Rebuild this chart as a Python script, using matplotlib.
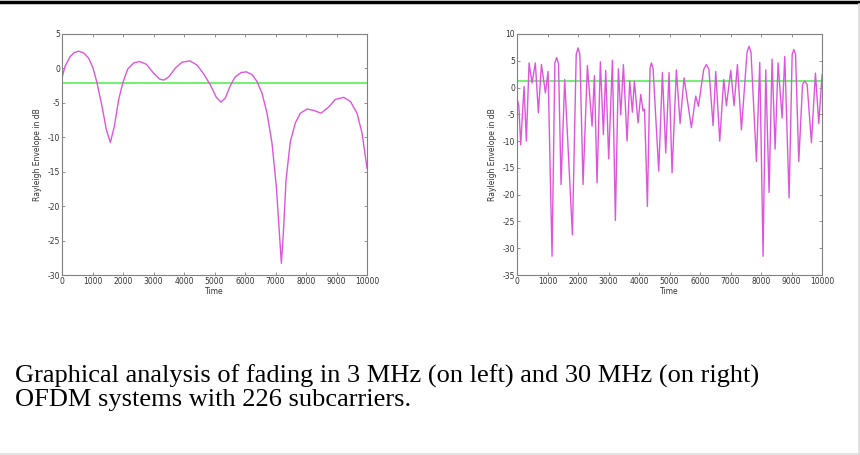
import numpy as np
import matplotlib
matplotlib.use("Agg")
import matplotlib.pyplot as plt
from matplotlib.lines import Line2D

plt.rcParams["axes.unicode_minus"] = False

# 3 MHz case (left)
t_3mhz = [0, 98, 273, 404, 546, 710, 874, 1016, 1148, 1311, 1454, 1585, 1716,
          1858, 2000, 2153, 2350, 2546, 2765, 3005, 3202, 3333, 3497, 3716,
          3934, 4186, 4426, 4645, 4863, 5060, 5213, 5355, 5508, 5672, 5869,
          6044, 6230, 6393, 6557, 6721, 6885, 7027, 7126, 7191, 7257, 7344,
          7486, 7650, 7814, 8033, 8251, 8492, 8743, 8962, 9235, 9454, 9672,
          9836, 10000]
env_3mhz = [-1.4, 0.3, 1.75, 2.3, 2.5, 2.25, 1.5, 0.05, -2.1, -5.5, -8.9, -10.75,
            -8.4, -4.5, -2.0, -0.1, 0.8, 1.0, 0.6, -0.7, -1.55, -1.7, -1.25, 0.05,
            0.9, 1.1, 0.5, -0.8, -2.4, -4.2, -4.9, -4.3, -2.6, -1.25, -0.6, -0.5,
            -0.9, -1.9, -3.6, -6.5, -10.9, -17.2, -23.9, -28.3, -23.9, -16.2,
            -10.6, -7.9, -6.5, -5.9, -6.1, -6.5, -5.6, -4.5, -4.2, -4.8, -6.5,
            -9.4, -14.5]
mean_3mhz = -2.1

# 30 MHz case (right)
t_30mhz = [0, 60, 120, 230, 306, 394, 492, 600, 700, 800, 930, 1017, 1148,
           1240, 1300, 1360, 1443, 1563, 1815, 1940, 2000, 2060, 2164, 2306,
           2460, 2536, 2623, 2732, 2831, 2907, 3005, 3126, 3224, 3323, 3400,
           3487, 3607, 3694, 3782, 3847, 3968, 4056, 4132, 4180, 4274, 4360,
           4405, 4460, 4645, 4766, 4875, 4984, 5082, 5224, 5345, 5476, 5716,
           5858, 5946, 6120, 6208, 6290, 6427, 6514, 6645, 6776, 6864, 7006,
           7115, 7225, 7356, 7540, 7607, 7670, 7848, 7957, 8066, 8154, 8263,
           8361, 8460, 8558, 8689, 8777, 8919, 9020, 9072, 9130, 9236, 9360,
           9432, 9510, 9651, 9782, 9892, 10000]
env_30mhz = [-2.0, -3.5, -10.7, 0.2, -10.0, 4.6, 0.85, 4.6, -4.7, 4.3, -1.0, 3.0,
             -31.5, 4.6, 5.6, 4.4, -18.1, 1.5, -27.5, 6.2, 7.4, 6.2, -18.1, 4.1,
             -7.2, 2.2, -17.8, 4.8, -8.8, 3.2, -13.3, 5.1, -24.8, 3.5, -5.1,
             4.3, -10.0, 1.2, -4.6, 1.2, -6.6, -1.3, -4.4, -4.0, -22.2, 3.6,
             4.6, 3.6, -15.6, 2.8, -12.2, 2.8, -15.9, 3.3, -6.7, 1.8, -7.5,
             -1.6, -3.5, 3.4, 4.3, 3.4, -7.1, 3.0, -10.0, 1.5, -3.4, 3.2, -3.4,
             4.3, -7.9, 6.6, 7.7, 6.6, -13.8, 4.7, -31.5, 3.3, -19.6, 5.3, -11.5,
             4.6, -5.7, 5.8, -20.6, 6.2, 7.1, 6.2, -13.8, 0.6, 1.2, 0.6, -10.3,
             2.7, -6.7, 2.4]
mean_30mhz = 1.2

caption = ("Graphical analysis of fading in 3 MHz (on left) and 30 MHz (on right)\n"
           "OFDM systems with 226 subcarriers.")

curve_color = "#dd55dd"
mean_color = "#77ee77"
frame_color = "#808080"

fig = plt.figure(figsize=(8.6, 4.55), dpi=100)


def setup(ax, ylim, yticks):
    ax.set_xlim(0, 10000)
    ax.set_ylim(*ylim)
    ax.set_xticks(np.arange(0, 10001, 1000))
    ax.set_yticks(yticks)
    ax.tick_params(direction="in", top=True, right=True, length=2.5,
                   width=0.6, labelsize=5.5, colors=frame_color,
                   labelcolor="#333333", pad=1.5)
    for sp in ax.spines.values():
        sp.set_color(frame_color)
        sp.set_linewidth(0.8)
    ax.set_xlabel("Time", fontsize=5.5, color="#333333", labelpad=1)
    ax.set_ylabel("Rayleigh Envelope in dB", fontsize=5.5, color="#333333",
                  labelpad=4)


ax1 = fig.add_axes([0.0721, 0.3956, 0.3547, 0.5297])
ax1.axhline(mean_3mhz, color=mean_color, lw=1.5)
ax1.plot(t_3mhz, env_3mhz, color=curve_color, lw=1.0)
setup(ax1, (-30, 5), np.arange(-30, 6, 5))

ax2 = fig.add_axes([0.6012, 0.3956, 0.3547, 0.5297])
ax2.axhline(mean_30mhz, color=mean_color, lw=1.5)
ax2.plot(t_30mhz, env_30mhz, color=curve_color, lw=1.0)
setup(ax2, (-35, 10), np.arange(-35, 11, 5))

fig.text(15 / 860, 1 - 406 / 455, caption, fontsize=19,
         family="Liberation Serif", va="baseline", ha="left",
         linespacing=1.08)

# frame lines of the figure panel
fig.add_artist(Line2D([0, 1], [1 - 1.5 / 455] * 2, color="black", lw=2.5,
                      transform=fig.transFigure))
fig.add_artist(Line2D([0, 1], [1.5 / 455] * 2, color="#dddddd", lw=1.2,
                      transform=fig.transFigure))
fig.add_artist(Line2D([858.5 / 860] * 2, [0, 1 - 4 / 455], color="#dddddd",
                      lw=1.2, transform=fig.transFigure))

fig.savefig("out.png", dpi=100)
